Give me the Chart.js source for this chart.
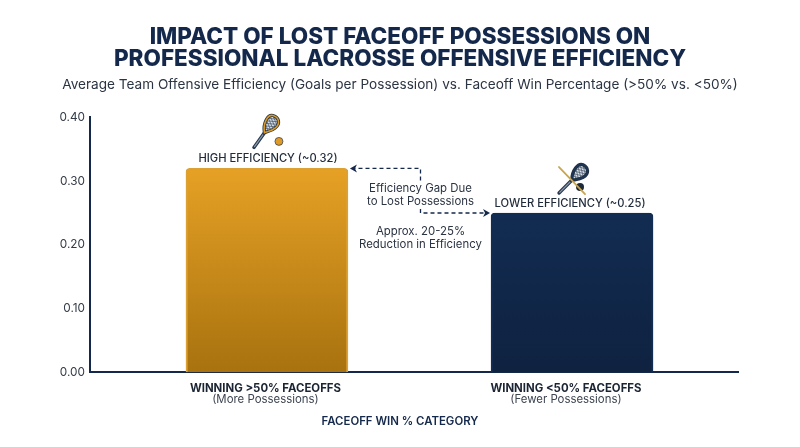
<!DOCTYPE html>
<html><head><meta charset="utf-8">
<script src="https://cdn.jsdelivr.net/npm/chart.js@4"></script>
<style>html,body{margin:0;padding:0;background:#fff}canvas{display:block}</style>
</head><body><canvas id="c" width="800" height="447"></canvas>
<script>
const categories = ['WINNING >50% FACEOFFS', 'WINNING <50% FACEOFFS'];
const subLabels = ['(More Possessions)', '(Fewer Possessions)'];
const values = [0.32, 0.25];
const valueLabels = ['HIGH EFFICIENCY (~0.32)', 'LOWER EFFICIENCY (~0.25)'];
const gapLabels = ['Efficiency Gap Due', 'to Lost Possessions'];
const reductionLabels = ['Approx. 20-25%', 'Reduction in Efficiency'];
const xAxisTitle = 'FACEOFF WIN % CATEGORY';
const FONT = 'Inter, "Noto Sans", sans-serif';
const NAVY = '#14284b';

function drawStick(ctx, x, y, angle, frame) {
  ctx.save();
  ctx.translate(x, y); ctx.rotate(angle);
  ctx.lineCap = 'round';
  ctx.strokeStyle = '#27384f'; ctx.lineWidth = 3.4;
  ctx.beginPath(); ctx.moveTo(0, 0); ctx.lineTo(0, -19); ctx.stroke();
  ctx.strokeStyle = '#8d9aa8'; ctx.lineWidth = 1.2;
  ctx.beginPath(); ctx.moveTo(0, -1); ctx.lineTo(0, -18); ctx.stroke();
  const head = new Path2D();
  head.moveTo(0, -18);
  head.bezierCurveTo(-7, -25, -8, -35, -3, -37);
  head.bezierCurveTo(3, -39, 8, -35, 6, -28);
  head.bezierCurveTo(5, -24, 2, -21, 0, -18);
  head.closePath();
  ctx.fillStyle = '#d8dfe6'; ctx.fill(head);
  ctx.save(); ctx.clip(head);
  ctx.strokeStyle = '#4a5a6e'; ctx.lineWidth = 0.7;
  for (let i = -50; i < 10; i += 3) {
    ctx.beginPath(); ctx.moveTo(-10, i); ctx.lineTo(10, i + 12); ctx.stroke();
    ctx.beginPath(); ctx.moveTo(10, i); ctx.lineTo(-10, i + 12); ctx.stroke();
  }
  ctx.restore();
  ctx.lineWidth = 3.2; ctx.strokeStyle = '#22303f'; ctx.stroke(head);
  ctx.lineWidth = 1.6; ctx.strokeStyle = frame; ctx.stroke(head);
  ctx.restore();
}

function arrowHead(ctx, x, y, dir) {
  ctx.beginPath();
  ctx.moveTo(x, y); ctx.lineTo(x - dir * 7, y - 4); ctx.lineTo(x - dir * 5, y); ctx.lineTo(x - dir * 7, y + 4);
  ctx.closePath(); ctx.fillStyle = NAVY; ctx.fill();
}

const annotations = {
  id: 'annotations',
  afterDatasetsDraw(chart) {
    const { ctx, scales: { x, y } } = chart;
    const c0 = x.getPixelForValue(0), c1 = x.getPixelForValue(1);
    const y0 = y.getPixelForValue(values[0]), y1 = y.getPixelForValue(values[1]);
    const bars = chart.getDatasetMeta(0).data;
    const right0 = bars[0].x + bars[0].width / 2, left1 = bars[1].x - bars[1].width / 2;
    const mid = (right0 + left1) / 2 + 1;
    ctx.save();
    ctx.textAlign = 'center'; ctx.textBaseline = 'middle';

    ctx.fillStyle = '#1f2a3a'; ctx.font = '500 11.2px ' + FONT;
    ctx.fillText(valueLabels[0], c0 + 1, y0 - 10);
    ctx.fillText(valueLabels[1], c1 - 2, y1 - 9.5);

    ctx.fillStyle = '#2b3442'; ctx.font = '400 11.4px ' + FONT;
    ctx.fillText(gapLabels[0], mid, y0 + 20);
    ctx.fillText(gapLabels[1], mid, y0 + 33);
    ctx.fillText(reductionLabels[0], mid, y1 + 19);
    ctx.fillText(reductionLabels[1], mid, y1 + 32);

    ctx.fillStyle = '#3c4450';
    subLabels.forEach((t, i) => ctx.fillText(t, x.getPixelForValue(x.ticks[i].value), y.bottom + 27));

    ctx.fillStyle = NAVY; ctx.font = '600 11.4px ' + FONT;
    ctx.fillText(xAxisTitle, chart.width / 2, y.bottom + 49);

    ctx.strokeStyle = NAVY; ctx.lineWidth = 1.3; ctx.setLineDash([4, 3]);
    ctx.beginPath(); ctx.moveTo(mid, y0 + 12); ctx.lineTo(mid, y0); ctx.lineTo(right0 + 7, y0); ctx.stroke();
    ctx.beginPath(); ctx.moveTo(mid, y1 - 4); ctx.lineTo(mid, y1); ctx.lineTo(left1 - 6, y1); ctx.stroke();
    ctx.setLineDash([]);
    arrowHead(ctx, right0 + 2, y0, -1);
    arrowHead(ctx, left1 - 1, y1, 1);

    // icon above the first bar
    ctx.beginPath(); ctx.arc(c0 + 12, y0 - 27, 4, 0, Math.PI * 2);
    ctx.fillStyle = '#e09a26'; ctx.fill();
    ctx.strokeStyle = '#27384f'; ctx.lineWidth = 0.7; ctx.stroke();
    drawStick(ctx, c0 - 13, y0 - 21, 0.62, '#d99a2b');

    // icon above the second bar
    ctx.beginPath(); ctx.arc(c1 + 8, y1 - 26, 4, 0, Math.PI * 2);
    ctx.fillStyle = '#1c2a3c'; ctx.fill();
    drawStick(ctx, c1 - 13, y1 - 20, 0.785, '#1c3558');
    ctx.strokeStyle = '#c9a552'; ctx.lineWidth = 1.8; ctx.lineCap = 'round';
    ctx.beginPath(); ctx.moveTo(c1 - 13, y1 - 46); ctx.lineTo(c1 + 13, y1 - 19); ctx.stroke();
    ctx.restore();
  }
};

function barFill(stops) {
  return ctx => {
    const area = ctx.chart.chartArea;
    if (!area) return stops[0];
    const top = ctx.chart.scales.y.getPixelForValue(values[ctx.dataIndex]);
    const g = ctx.chart.ctx.createLinearGradient(0, top, 0, area.bottom);
    g.addColorStop(0, stops[0]); g.addColorStop(1, stops[1]);
    return g;
  };
}
const fills = [['#e6a125', '#a8720f'], ['#122c52', '#0f2240']];

new Chart(document.getElementById('c'), {
  type: 'bar',
  data: {
    datasets: [{
      data: values.map((v, i) => ({ x: i, y: v })),
      backgroundColor: ctx => barFill(fills[ctx.dataIndex])(ctx),
      borderColor: ['#dca134', '#122c52'],
      borderWidth: 2,
      borderSkipped: 'bottom',
      borderRadius: { topLeft: 4, topRight: 4 },
      barThickness: 162
    }]
  },
  plugins: [annotations],
  options: {
    responsive: false,
    animation: false,
    layout: { padding: { top: 20, left: 0, right: 0, bottom: 43 } },
    plugins: {
      legend: { display: false },
      tooltip: { enabled: false },
      title: {
        display: true,
        text: ['IMPACT OF LOST FACEOFF POSSESSIONS ON', 'PROFESSIONAL LACROSSE OFFENSIVE EFFICIENCY'],
        color: NAVY,
        font: { family: FONT, size: 22.5, weight: '800', lineHeight: 0.98 },
        padding: { top: 6, bottom: 7 }
      },
      subtitle: {
        display: true,
        text: 'Average Team Offensive Efficiency (Goals per Possession) vs. Faceoff Win Percentage (>50% vs. <50%)',
        color: '#2b3442',
        font: { family: FONT, size: 13.6, weight: '400' },
        padding: { bottom: 24 }
      }
    },
    scales: {
      x: {
        type: 'linear',
        offset: false,
        min: -0.58, max: 1.544,
        grid: { display: false, drawTicks: false },
        border: { display: true, color: NAVY, width: 2 },
        afterBuildTicks(scale) { scale.ticks = [{ value: -0.005 }, { value: 0.98 }]; },
        ticks: {
          padding: 9,
          maxRotation: 0,
          autoSkip: false,
          color: '#1b2432',
          font: { family: FONT, size: 11.4, weight: '700' },
          callback: (v, i) => categories[i] ?? ''
        }
      },
      y: {
        min: 0, max: 0.4,
        afterFit(scale) { scale.width = 90; },
        grid: { display: false, drawTicks: false },
        border: { display: true, color: NAVY, width: 2 },
        ticks: {
          stepSize: 0.1,
          padding: 5,
          color: '#333b47',
          font: { family: FONT, size: 11.8, weight: '400' },
          callback: v => v.toFixed(2)
        }
      },
      rightGutter: {
        position: 'right',
        afterFit(scale) { scale.width = 62; },
        grid: { display: false, drawTicks: false },
        border: { display: false },
        ticks: { display: false }
      }
    }
  }
});
</script></body></html>
